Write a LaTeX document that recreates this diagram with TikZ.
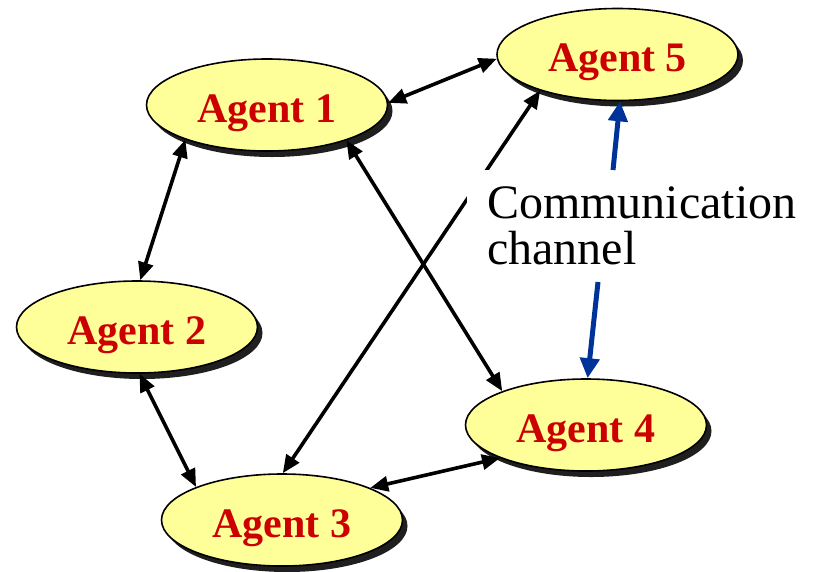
\documentclass[tikz,border=0pt]{standalone}
\usepackage{fontspec}
\setmainfont{Liberation Serif}
\usetikzlibrary{shapes.geometric,shadows,arrows.meta}
\definecolor{agentfill}{HTML}{FFFF99}
\definecolor{agentred}{HTML}{CC0000}
\definecolor{chanblue}{HTML}{003399}
\begin{document}
\begin{tikzpicture}[x=1pt,y=-1pt,
  agent/.style={ellipse, draw=black, line width=1.6pt, fill=agentfill,
    minimum width=241pt, minimum height=92pt, inner sep=0pt,
    font=\fontsize{42}{42}\selectfont\bfseries, text=agentred,
    text height=34pt, text depth=0pt,
    drop shadow={shadow xshift=5pt, shadow yshift=-6pt, fill=black!88, opacity=1}},
  link/.style={line width=3.6pt, {Triangle[length=18pt,width=15pt]}-{Triangle[length=18pt,width=15pt]}},
  chan/.style={line width=5pt, draw=chanblue, -{Triangle[length=20pt,width=19pt]}},
  commbox/.style={fill=white, anchor=north west, inner xsep=20pt, inner ysep=16.5pt,
    align=left, font=\fontsize{48}{46}\selectfont}
]
\useasboundingbox (0,0) rectangle (813,571);

\node[agent] (a1) at (267,105) {Agent 1};
\node[agent] (a2) at (137,327) {Agent 2};
\node[agent] (a3) at (282,520) {Agent 3};
\node[agent] (a4) at (586,425) {Agent 4};
\node[agent] (a5) at (617.5,54.5) {Agent 5};

\draw[link] (a1.1) -- (a5.182);
\draw[link] (a1.203) -- (a2.86);
\draw[link] (a1.336) -- (a4.158);
\draw[link] (a2.273) -- (a3.159);
\draw[link] (a3.89) -- (a5.205);
\draw[link] (a3.20) -- (a4.201);

\node[commbox] (comm) at (467,170) {Communication\\channel};

\coordinate (up0) at (613,170);
\coordinate (dn0) at (598,282);
\draw[chan] (up0) -- (a5.273);
\draw[chan] (dn0) -- (a4.88);
\end{tikzpicture}
\end{document}
